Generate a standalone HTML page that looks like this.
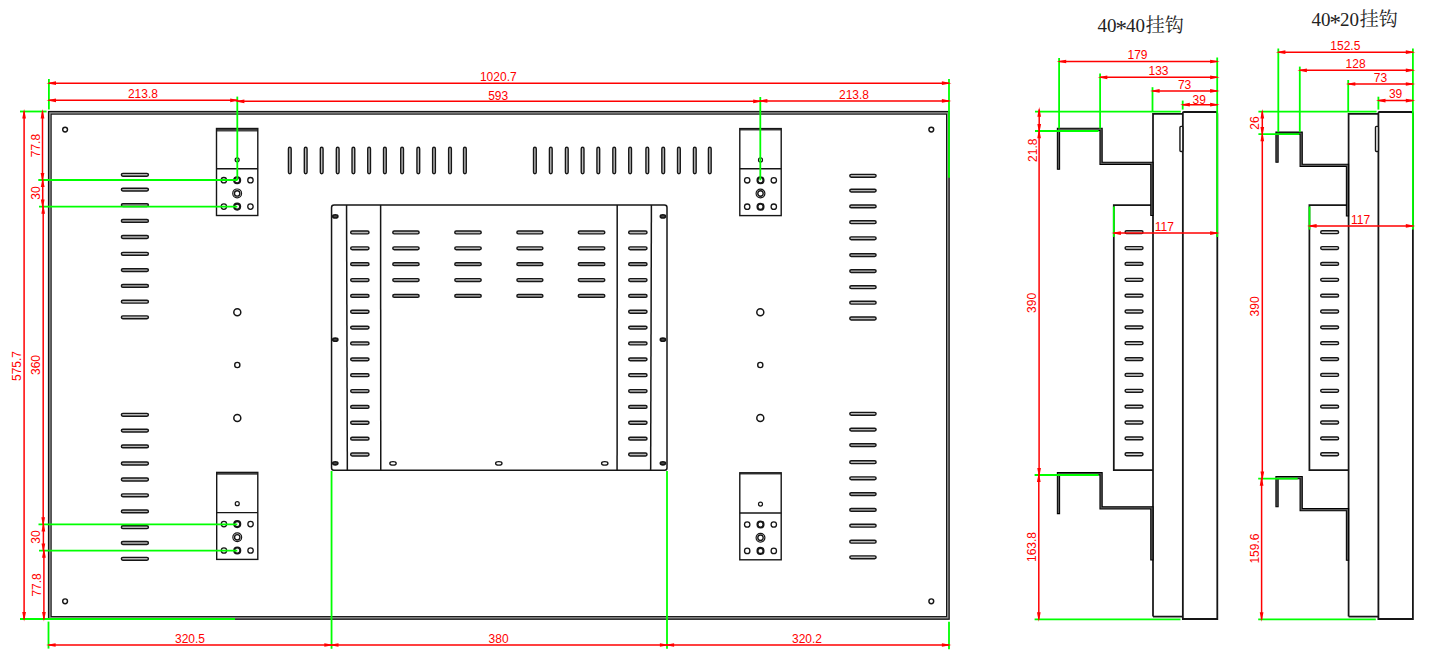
<!DOCTYPE html>
<html><head><meta charset="utf-8"><title>drawing</title>
<style>
html,body{margin:0;padding:0;background:#fff;}
body{width:1432px;height:658px;overflow:hidden;position:relative;}
svg{position:absolute;left:0;top:0;display:block;}
.d{font-family:"Liberation Sans",sans-serif;font-size:12px;fill:#ff0000;}
.t{font-family:"Liberation Serif","Noto Serif CJK SC",serif;font-size:19px;fill:#222;}
</style></head><body>
<svg width="1432" height="658" viewBox="0 0 1432 658">
<rect x="0" y="0" width="1432" height="658" fill="#ffffff"/>
<g id="main">
<rect x="49.85" y="112.85" width="898.00" height="505.05" fill="none" stroke="#969696" stroke-width="2.6"/>
<rect x="48.55" y="111.55" width="900.60" height="507.65" rx="0" fill="none" stroke="#161616" stroke-width="1.3"/>
<rect x="51.15" y="114.15" width="895.40" height="502.45" rx="0" fill="none" stroke="#161616" stroke-width="1.1"/>
<circle cx="65.10" cy="129.60" r="2.4" fill="none" stroke="#161616" stroke-width="1.45"/>
<circle cx="931.30" cy="129.60" r="2.4" fill="none" stroke="#161616" stroke-width="1.45"/>
<circle cx="65.10" cy="601.30" r="2.4" fill="none" stroke="#161616" stroke-width="1.45"/>
<circle cx="931.30" cy="601.30" r="2.4" fill="none" stroke="#161616" stroke-width="1.45"/>
<line x1="216.50" y1="130.00" x2="257.80" y2="130.00" stroke="#444" stroke-width="3.0" />
<rect x="216.50" y="128.50" width="41.30" height="87.00" rx="0" fill="none" stroke="#161616" stroke-width="1.4"/>
<line x1="216.50" y1="168.70" x2="257.80" y2="168.70" stroke="#161616" stroke-width="1.4" />
<circle cx="237.15" cy="159.80" r="2.0" fill="none" stroke="#161616" stroke-width="1.2"/>
<circle cx="223.85" cy="180.20" r="2.7" fill="none" stroke="#161616" stroke-width="1.3"/>
<circle cx="250.45" cy="180.20" r="2.7" fill="none" stroke="#161616" stroke-width="1.3"/>
<circle cx="237.15" cy="180.20" r="3.0" fill="none" stroke="#161616" stroke-width="2.1"/>
<circle cx="223.85" cy="206.60" r="2.7" fill="none" stroke="#161616" stroke-width="1.3"/>
<circle cx="250.45" cy="206.60" r="2.7" fill="none" stroke="#161616" stroke-width="1.3"/>
<circle cx="237.15" cy="206.60" r="3.0" fill="none" stroke="#161616" stroke-width="2.1"/>
<circle cx="237.15" cy="193.40" r="4.4" fill="none" stroke="#161616" stroke-width="1.2"/>
<circle cx="237.15" cy="193.40" r="2.7" fill="none" stroke="#161616" stroke-width="1.4"/>
<line x1="739.80" y1="129.50" x2="781.20" y2="129.50" stroke="#444" stroke-width="1.8" />
<rect x="739.80" y="128.60" width="41.40" height="87.00" rx="0" fill="none" stroke="#161616" stroke-width="1.4"/>
<line x1="739.80" y1="168.80" x2="781.20" y2="168.80" stroke="#161616" stroke-width="1.4" />
<circle cx="760.50" cy="159.90" r="2.0" fill="none" stroke="#161616" stroke-width="1.2"/>
<circle cx="747.20" cy="180.30" r="2.7" fill="none" stroke="#161616" stroke-width="1.3"/>
<circle cx="773.80" cy="180.30" r="2.7" fill="none" stroke="#161616" stroke-width="1.3"/>
<circle cx="760.50" cy="180.30" r="3.0" fill="none" stroke="#161616" stroke-width="2.1"/>
<circle cx="747.20" cy="206.70" r="2.7" fill="none" stroke="#161616" stroke-width="1.3"/>
<circle cx="773.80" cy="206.70" r="2.7" fill="none" stroke="#161616" stroke-width="1.3"/>
<circle cx="760.50" cy="206.70" r="3.0" fill="none" stroke="#161616" stroke-width="2.1"/>
<circle cx="760.50" cy="193.50" r="4.4" fill="none" stroke="#161616" stroke-width="1.2"/>
<circle cx="760.50" cy="193.50" r="2.7" fill="none" stroke="#161616" stroke-width="1.4"/>
<line x1="216.70" y1="473.55" x2="257.80" y2="473.55" stroke="#444" stroke-width="2.3" />
<rect x="216.70" y="472.40" width="41.10" height="87.00" rx="0" fill="none" stroke="#161616" stroke-width="1.4"/>
<line x1="216.70" y1="512.60" x2="257.80" y2="512.60" stroke="#161616" stroke-width="1.4" />
<circle cx="237.25" cy="503.70" r="2.0" fill="none" stroke="#161616" stroke-width="1.2"/>
<circle cx="223.95" cy="524.10" r="2.7" fill="none" stroke="#161616" stroke-width="1.3"/>
<circle cx="250.55" cy="524.10" r="2.7" fill="none" stroke="#161616" stroke-width="1.3"/>
<circle cx="237.25" cy="524.10" r="3.0" fill="none" stroke="#161616" stroke-width="2.1"/>
<circle cx="223.95" cy="550.50" r="2.7" fill="none" stroke="#161616" stroke-width="1.3"/>
<circle cx="250.55" cy="550.50" r="2.7" fill="none" stroke="#161616" stroke-width="1.3"/>
<circle cx="237.25" cy="550.50" r="3.0" fill="none" stroke="#161616" stroke-width="2.1"/>
<circle cx="237.25" cy="537.30" r="4.4" fill="none" stroke="#161616" stroke-width="1.2"/>
<circle cx="237.25" cy="537.30" r="2.7" fill="none" stroke="#161616" stroke-width="1.4"/>
<line x1="739.80" y1="473.70" x2="781.20" y2="473.70" stroke="#444" stroke-width="1.8" />
<rect x="739.80" y="472.80" width="41.40" height="87.00" rx="0" fill="none" stroke="#161616" stroke-width="1.4"/>
<line x1="739.80" y1="513.00" x2="781.20" y2="513.00" stroke="#161616" stroke-width="1.4" />
<circle cx="760.50" cy="504.10" r="2.0" fill="none" stroke="#161616" stroke-width="1.2"/>
<circle cx="747.20" cy="524.50" r="2.7" fill="none" stroke="#161616" stroke-width="1.3"/>
<circle cx="773.80" cy="524.50" r="2.7" fill="none" stroke="#161616" stroke-width="1.3"/>
<circle cx="760.50" cy="524.50" r="3.0" fill="none" stroke="#161616" stroke-width="2.1"/>
<circle cx="747.20" cy="550.90" r="2.7" fill="none" stroke="#161616" stroke-width="1.3"/>
<circle cx="773.80" cy="550.90" r="2.7" fill="none" stroke="#161616" stroke-width="1.3"/>
<circle cx="760.50" cy="550.90" r="3.0" fill="none" stroke="#161616" stroke-width="2.1"/>
<circle cx="760.50" cy="537.70" r="4.4" fill="none" stroke="#161616" stroke-width="1.2"/>
<circle cx="760.50" cy="537.70" r="2.7" fill="none" stroke="#161616" stroke-width="1.4"/>
<circle cx="237.30" cy="312.20" r="3.5" fill="none" stroke="#161616" stroke-width="1.5"/>
<circle cx="237.30" cy="365.00" r="2.6" fill="none" stroke="#161616" stroke-width="1.4"/>
<circle cx="237.30" cy="418.00" r="3.5" fill="none" stroke="#161616" stroke-width="1.5"/>
<circle cx="760.30" cy="312.20" r="3.5" fill="none" stroke="#161616" stroke-width="1.5"/>
<circle cx="760.30" cy="365.00" r="2.6" fill="none" stroke="#161616" stroke-width="1.4"/>
<circle cx="760.30" cy="418.00" r="3.5" fill="none" stroke="#161616" stroke-width="1.5"/>
<rect x="121.40" y="173.38" width="27.00" height="2.85" rx="1.425" fill="#b8b8b8" stroke="#161616" stroke-width="1.45"/>
<rect x="121.40" y="188.17" width="27.00" height="2.85" rx="1.425" fill="#b8b8b8" stroke="#161616" stroke-width="1.45"/>
<rect x="121.40" y="203.67" width="27.00" height="2.85" rx="1.425" fill="#b8b8b8" stroke="#161616" stroke-width="1.45"/>
<rect x="121.40" y="219.47" width="27.00" height="2.85" rx="1.425" fill="#b8b8b8" stroke="#161616" stroke-width="1.45"/>
<rect x="121.40" y="235.57" width="27.00" height="2.85" rx="1.425" fill="#b8b8b8" stroke="#161616" stroke-width="1.45"/>
<rect x="121.40" y="252.38" width="27.00" height="2.85" rx="1.425" fill="#b8b8b8" stroke="#161616" stroke-width="1.45"/>
<rect x="121.40" y="268.68" width="27.00" height="2.85" rx="1.425" fill="#b8b8b8" stroke="#161616" stroke-width="1.45"/>
<rect x="121.40" y="284.47" width="27.00" height="2.85" rx="1.425" fill="#b8b8b8" stroke="#161616" stroke-width="1.45"/>
<rect x="121.40" y="300.27" width="27.00" height="2.85" rx="1.425" fill="#b8b8b8" stroke="#161616" stroke-width="1.45"/>
<rect x="121.40" y="315.88" width="27.00" height="2.85" rx="1.425" fill="#b8b8b8" stroke="#161616" stroke-width="1.45"/>
<rect x="121.40" y="413.38" width="27.00" height="2.85" rx="1.425" fill="#b8b8b8" stroke="#161616" stroke-width="1.45"/>
<rect x="121.40" y="429.18" width="27.00" height="2.85" rx="1.425" fill="#b8b8b8" stroke="#161616" stroke-width="1.45"/>
<rect x="121.40" y="444.97" width="27.00" height="2.85" rx="1.425" fill="#b8b8b8" stroke="#161616" stroke-width="1.45"/>
<rect x="121.40" y="462.07" width="27.00" height="2.85" rx="1.425" fill="#b8b8b8" stroke="#161616" stroke-width="1.45"/>
<rect x="121.40" y="478.07" width="27.00" height="2.85" rx="1.425" fill="#b8b8b8" stroke="#161616" stroke-width="1.45"/>
<rect x="121.40" y="493.88" width="27.00" height="2.85" rx="1.425" fill="#b8b8b8" stroke="#161616" stroke-width="1.45"/>
<rect x="121.40" y="509.97" width="27.00" height="2.85" rx="1.425" fill="#b8b8b8" stroke="#161616" stroke-width="1.45"/>
<rect x="121.40" y="525.78" width="27.00" height="2.85" rx="1.425" fill="#b8b8b8" stroke="#161616" stroke-width="1.45"/>
<rect x="121.40" y="541.58" width="27.00" height="2.85" rx="1.425" fill="#b8b8b8" stroke="#161616" stroke-width="1.45"/>
<rect x="121.40" y="557.38" width="27.00" height="2.85" rx="1.425" fill="#b8b8b8" stroke="#161616" stroke-width="1.45"/>
<rect x="849.80" y="174.38" width="26.30" height="2.85" rx="1.425" fill="#b8b8b8" stroke="#161616" stroke-width="1.45"/>
<rect x="849.80" y="189.17" width="26.30" height="2.85" rx="1.425" fill="#b8b8b8" stroke="#161616" stroke-width="1.45"/>
<rect x="849.80" y="204.97" width="26.30" height="2.85" rx="1.425" fill="#b8b8b8" stroke="#161616" stroke-width="1.45"/>
<rect x="849.80" y="220.77" width="26.30" height="2.85" rx="1.425" fill="#b8b8b8" stroke="#161616" stroke-width="1.45"/>
<rect x="849.80" y="236.88" width="26.30" height="2.85" rx="1.425" fill="#b8b8b8" stroke="#161616" stroke-width="1.45"/>
<rect x="849.80" y="253.67" width="26.30" height="2.85" rx="1.425" fill="#b8b8b8" stroke="#161616" stroke-width="1.45"/>
<rect x="849.80" y="269.68" width="26.30" height="2.85" rx="1.425" fill="#b8b8b8" stroke="#161616" stroke-width="1.45"/>
<rect x="849.80" y="285.77" width="26.30" height="2.85" rx="1.425" fill="#b8b8b8" stroke="#161616" stroke-width="1.45"/>
<rect x="849.80" y="301.27" width="26.30" height="2.85" rx="1.425" fill="#b8b8b8" stroke="#161616" stroke-width="1.45"/>
<rect x="849.80" y="317.07" width="26.30" height="2.85" rx="1.425" fill="#b8b8b8" stroke="#161616" stroke-width="1.45"/>
<rect x="849.80" y="412.38" width="26.30" height="2.85" rx="1.425" fill="#b8b8b8" stroke="#161616" stroke-width="1.45"/>
<rect x="849.80" y="428.18" width="26.30" height="2.85" rx="1.425" fill="#b8b8b8" stroke="#161616" stroke-width="1.45"/>
<rect x="849.80" y="443.68" width="26.30" height="2.85" rx="1.425" fill="#b8b8b8" stroke="#161616" stroke-width="1.45"/>
<rect x="849.80" y="460.77" width="26.30" height="2.85" rx="1.425" fill="#b8b8b8" stroke="#161616" stroke-width="1.45"/>
<rect x="849.80" y="476.88" width="26.30" height="2.85" rx="1.425" fill="#b8b8b8" stroke="#161616" stroke-width="1.45"/>
<rect x="849.80" y="492.68" width="26.30" height="2.85" rx="1.425" fill="#b8b8b8" stroke="#161616" stroke-width="1.45"/>
<rect x="849.80" y="508.47" width="26.30" height="2.85" rx="1.425" fill="#b8b8b8" stroke="#161616" stroke-width="1.45"/>
<rect x="849.80" y="524.28" width="26.30" height="2.85" rx="1.425" fill="#b8b8b8" stroke="#161616" stroke-width="1.45"/>
<rect x="849.80" y="540.28" width="26.30" height="2.85" rx="1.425" fill="#b8b8b8" stroke="#161616" stroke-width="1.45"/>
<rect x="849.80" y="555.88" width="26.30" height="2.85" rx="1.425" fill="#b8b8b8" stroke="#161616" stroke-width="1.45"/>
<rect x="288.43" y="147.30" width="2.75" height="26.40" rx="1.375" fill="#bdbdbd" stroke="#161616" stroke-width="1.4"/>
<rect x="304.32" y="147.30" width="2.75" height="26.40" rx="1.375" fill="#bdbdbd" stroke="#161616" stroke-width="1.4"/>
<rect x="320.32" y="147.30" width="2.75" height="26.40" rx="1.375" fill="#bdbdbd" stroke="#161616" stroke-width="1.4"/>
<rect x="336.32" y="147.30" width="2.75" height="26.40" rx="1.375" fill="#bdbdbd" stroke="#161616" stroke-width="1.4"/>
<rect x="352.02" y="147.30" width="2.75" height="26.40" rx="1.375" fill="#bdbdbd" stroke="#161616" stroke-width="1.4"/>
<rect x="367.73" y="147.30" width="2.75" height="26.40" rx="1.375" fill="#bdbdbd" stroke="#161616" stroke-width="1.4"/>
<rect x="383.52" y="147.30" width="2.75" height="26.40" rx="1.375" fill="#bdbdbd" stroke="#161616" stroke-width="1.4"/>
<rect x="400.73" y="147.30" width="2.75" height="26.40" rx="1.375" fill="#bdbdbd" stroke="#161616" stroke-width="1.4"/>
<rect x="416.93" y="147.30" width="2.75" height="26.40" rx="1.375" fill="#bdbdbd" stroke="#161616" stroke-width="1.4"/>
<rect x="432.62" y="147.30" width="2.75" height="26.40" rx="1.375" fill="#bdbdbd" stroke="#161616" stroke-width="1.4"/>
<rect x="448.62" y="147.30" width="2.75" height="26.40" rx="1.375" fill="#bdbdbd" stroke="#161616" stroke-width="1.4"/>
<rect x="463.52" y="147.30" width="2.75" height="26.40" rx="1.375" fill="#bdbdbd" stroke="#161616" stroke-width="1.4"/>
<rect x="533.52" y="147.30" width="2.75" height="26.40" rx="1.375" fill="#bdbdbd" stroke="#161616" stroke-width="1.4"/>
<rect x="549.42" y="147.30" width="2.75" height="26.40" rx="1.375" fill="#bdbdbd" stroke="#161616" stroke-width="1.4"/>
<rect x="565.42" y="147.30" width="2.75" height="26.40" rx="1.375" fill="#bdbdbd" stroke="#161616" stroke-width="1.4"/>
<rect x="581.23" y="147.30" width="2.75" height="26.40" rx="1.375" fill="#bdbdbd" stroke="#161616" stroke-width="1.4"/>
<rect x="596.92" y="147.30" width="2.75" height="26.40" rx="1.375" fill="#bdbdbd" stroke="#161616" stroke-width="1.4"/>
<rect x="612.83" y="147.30" width="2.75" height="26.40" rx="1.375" fill="#bdbdbd" stroke="#161616" stroke-width="1.4"/>
<rect x="628.73" y="147.30" width="2.75" height="26.40" rx="1.375" fill="#bdbdbd" stroke="#161616" stroke-width="1.4"/>
<rect x="645.92" y="147.30" width="2.75" height="26.40" rx="1.375" fill="#bdbdbd" stroke="#161616" stroke-width="1.4"/>
<rect x="661.83" y="147.30" width="2.75" height="26.40" rx="1.375" fill="#bdbdbd" stroke="#161616" stroke-width="1.4"/>
<rect x="677.52" y="147.30" width="2.75" height="26.40" rx="1.375" fill="#bdbdbd" stroke="#161616" stroke-width="1.4"/>
<rect x="693.42" y="147.30" width="2.75" height="26.40" rx="1.375" fill="#bdbdbd" stroke="#161616" stroke-width="1.4"/>
<rect x="708.42" y="147.30" width="2.75" height="26.40" rx="1.375" fill="#bdbdbd" stroke="#161616" stroke-width="1.4"/>
<path d="M334.05,205.05 H664.5 Q667.0,205.05 667.0,207.55 V468.1 Q667.0,470.3 664.8,470.3 H333.75 Q331.55,470.3 331.55,468.1 V207.55 Q331.55,205.05 334.05,205.05 Z" fill="none" stroke="#161616" stroke-width="1.5" />
<line x1="346.55" y1="205.05" x2="347.35" y2="470.30" stroke="#161616" stroke-width="1.5" />
<line x1="380.60" y1="205.05" x2="380.75" y2="470.30" stroke="#161616" stroke-width="1.5" />
<line x1="617.20" y1="205.05" x2="617.10" y2="470.30" stroke="#161616" stroke-width="1.5" />
<line x1="651.40" y1="205.05" x2="650.65" y2="470.30" stroke="#161616" stroke-width="1.5" />
<rect x="350.70" y="231.02" width="18.30" height="2.85" rx="1.425" fill="#b8b8b8" stroke="#161616" stroke-width="1.45"/>
<rect x="628.70" y="231.02" width="18.30" height="2.85" rx="1.425" fill="#b8b8b8" stroke="#161616" stroke-width="1.45"/>
<rect x="350.70" y="246.88" width="18.30" height="2.85" rx="1.425" fill="#b8b8b8" stroke="#161616" stroke-width="1.45"/>
<rect x="628.70" y="246.88" width="18.30" height="2.85" rx="1.425" fill="#b8b8b8" stroke="#161616" stroke-width="1.45"/>
<rect x="350.70" y="262.74" width="18.30" height="2.85" rx="1.425" fill="#b8b8b8" stroke="#161616" stroke-width="1.45"/>
<rect x="628.70" y="262.74" width="18.30" height="2.85" rx="1.425" fill="#b8b8b8" stroke="#161616" stroke-width="1.45"/>
<rect x="350.70" y="278.60" width="18.30" height="2.85" rx="1.425" fill="#b8b8b8" stroke="#161616" stroke-width="1.45"/>
<rect x="628.70" y="278.60" width="18.30" height="2.85" rx="1.425" fill="#b8b8b8" stroke="#161616" stroke-width="1.45"/>
<rect x="350.70" y="294.46" width="18.30" height="2.85" rx="1.425" fill="#b8b8b8" stroke="#161616" stroke-width="1.45"/>
<rect x="628.70" y="294.46" width="18.30" height="2.85" rx="1.425" fill="#b8b8b8" stroke="#161616" stroke-width="1.45"/>
<rect x="350.70" y="310.32" width="18.30" height="2.85" rx="1.425" fill="#b8b8b8" stroke="#161616" stroke-width="1.45"/>
<rect x="628.70" y="310.32" width="18.30" height="2.85" rx="1.425" fill="#b8b8b8" stroke="#161616" stroke-width="1.45"/>
<rect x="350.70" y="326.19" width="18.30" height="2.85" rx="1.425" fill="#b8b8b8" stroke="#161616" stroke-width="1.45"/>
<rect x="628.70" y="326.19" width="18.30" height="2.85" rx="1.425" fill="#b8b8b8" stroke="#161616" stroke-width="1.45"/>
<rect x="350.70" y="342.04" width="18.30" height="2.85" rx="1.425" fill="#b8b8b8" stroke="#161616" stroke-width="1.45"/>
<rect x="628.70" y="342.04" width="18.30" height="2.85" rx="1.425" fill="#b8b8b8" stroke="#161616" stroke-width="1.45"/>
<rect x="350.70" y="357.90" width="18.30" height="2.85" rx="1.425" fill="#b8b8b8" stroke="#161616" stroke-width="1.45"/>
<rect x="628.70" y="357.90" width="18.30" height="2.85" rx="1.425" fill="#b8b8b8" stroke="#161616" stroke-width="1.45"/>
<rect x="350.70" y="373.76" width="18.30" height="2.85" rx="1.425" fill="#b8b8b8" stroke="#161616" stroke-width="1.45"/>
<rect x="628.70" y="373.76" width="18.30" height="2.85" rx="1.425" fill="#b8b8b8" stroke="#161616" stroke-width="1.45"/>
<rect x="350.70" y="389.62" width="18.30" height="2.85" rx="1.425" fill="#b8b8b8" stroke="#161616" stroke-width="1.45"/>
<rect x="628.70" y="389.62" width="18.30" height="2.85" rx="1.425" fill="#b8b8b8" stroke="#161616" stroke-width="1.45"/>
<rect x="350.70" y="405.48" width="18.30" height="2.85" rx="1.425" fill="#b8b8b8" stroke="#161616" stroke-width="1.45"/>
<rect x="628.70" y="405.48" width="18.30" height="2.85" rx="1.425" fill="#b8b8b8" stroke="#161616" stroke-width="1.45"/>
<rect x="350.70" y="421.34" width="18.30" height="2.85" rx="1.425" fill="#b8b8b8" stroke="#161616" stroke-width="1.45"/>
<rect x="628.70" y="421.34" width="18.30" height="2.85" rx="1.425" fill="#b8b8b8" stroke="#161616" stroke-width="1.45"/>
<rect x="350.70" y="437.20" width="18.30" height="2.85" rx="1.425" fill="#b8b8b8" stroke="#161616" stroke-width="1.45"/>
<rect x="628.70" y="437.20" width="18.30" height="2.85" rx="1.425" fill="#b8b8b8" stroke="#161616" stroke-width="1.45"/>
<rect x="350.70" y="453.06" width="18.30" height="2.85" rx="1.425" fill="#b8b8b8" stroke="#161616" stroke-width="1.45"/>
<rect x="628.70" y="453.06" width="18.30" height="2.85" rx="1.425" fill="#b8b8b8" stroke="#161616" stroke-width="1.45"/>
<rect x="392.80" y="231.02" width="26.30" height="2.85" rx="1.425" fill="#b8b8b8" stroke="#161616" stroke-width="1.45"/>
<rect x="454.80" y="231.02" width="26.40" height="2.85" rx="1.425" fill="#b8b8b8" stroke="#161616" stroke-width="1.45"/>
<rect x="516.90" y="231.02" width="26.00" height="2.85" rx="1.425" fill="#b8b8b8" stroke="#161616" stroke-width="1.45"/>
<rect x="578.30" y="231.02" width="26.50" height="2.85" rx="1.425" fill="#b8b8b8" stroke="#161616" stroke-width="1.45"/>
<rect x="392.80" y="246.88" width="26.30" height="2.85" rx="1.425" fill="#b8b8b8" stroke="#161616" stroke-width="1.45"/>
<rect x="454.80" y="246.88" width="26.40" height="2.85" rx="1.425" fill="#b8b8b8" stroke="#161616" stroke-width="1.45"/>
<rect x="516.90" y="246.88" width="26.00" height="2.85" rx="1.425" fill="#b8b8b8" stroke="#161616" stroke-width="1.45"/>
<rect x="578.30" y="246.88" width="26.50" height="2.85" rx="1.425" fill="#b8b8b8" stroke="#161616" stroke-width="1.45"/>
<rect x="392.80" y="262.74" width="26.30" height="2.85" rx="1.425" fill="#b8b8b8" stroke="#161616" stroke-width="1.45"/>
<rect x="454.80" y="262.74" width="26.40" height="2.85" rx="1.425" fill="#b8b8b8" stroke="#161616" stroke-width="1.45"/>
<rect x="516.90" y="262.74" width="26.00" height="2.85" rx="1.425" fill="#b8b8b8" stroke="#161616" stroke-width="1.45"/>
<rect x="578.30" y="262.74" width="26.50" height="2.85" rx="1.425" fill="#b8b8b8" stroke="#161616" stroke-width="1.45"/>
<rect x="392.80" y="278.60" width="26.30" height="2.85" rx="1.425" fill="#b8b8b8" stroke="#161616" stroke-width="1.45"/>
<rect x="454.80" y="278.60" width="26.40" height="2.85" rx="1.425" fill="#b8b8b8" stroke="#161616" stroke-width="1.45"/>
<rect x="516.90" y="278.60" width="26.00" height="2.85" rx="1.425" fill="#b8b8b8" stroke="#161616" stroke-width="1.45"/>
<rect x="578.30" y="278.60" width="26.50" height="2.85" rx="1.425" fill="#b8b8b8" stroke="#161616" stroke-width="1.45"/>
<rect x="392.80" y="294.46" width="26.30" height="2.85" rx="1.425" fill="#b8b8b8" stroke="#161616" stroke-width="1.45"/>
<rect x="454.80" y="294.46" width="26.40" height="2.85" rx="1.425" fill="#b8b8b8" stroke="#161616" stroke-width="1.45"/>
<rect x="516.90" y="294.46" width="26.00" height="2.85" rx="1.425" fill="#b8b8b8" stroke="#161616" stroke-width="1.45"/>
<rect x="578.30" y="294.46" width="26.50" height="2.85" rx="1.425" fill="#b8b8b8" stroke="#161616" stroke-width="1.45"/>
<ellipse cx="393.00" cy="463.40" rx="3.2" ry="1.75" fill="none" stroke="#161616" stroke-width="1.3"/>
<ellipse cx="498.80" cy="463.40" rx="3.2" ry="1.75" fill="none" stroke="#161616" stroke-width="1.3"/>
<ellipse cx="604.75" cy="463.40" rx="3.2" ry="1.75" fill="none" stroke="#161616" stroke-width="1.3"/>
<ellipse cx="335.30" cy="216.40" rx="2.6" ry="1.6" fill="#4a4a4a" stroke="#161616" stroke-width="1.6"/>
<ellipse cx="662.90" cy="216.40" rx="2.6" ry="1.6" fill="#4a4a4a" stroke="#161616" stroke-width="1.6"/>
<ellipse cx="335.30" cy="339.70" rx="2.6" ry="1.6" fill="#4a4a4a" stroke="#161616" stroke-width="1.6"/>
<ellipse cx="662.90" cy="339.70" rx="2.6" ry="1.6" fill="#4a4a4a" stroke="#161616" stroke-width="1.6"/>
<ellipse cx="335.30" cy="463.30" rx="2.6" ry="1.6" fill="#4a4a4a" stroke="#161616" stroke-width="1.6"/>
<ellipse cx="662.90" cy="463.30" rx="2.6" ry="1.6" fill="#4a4a4a" stroke="#161616" stroke-width="1.6"/>
<line x1="48.90" y1="79.00" x2="48.90" y2="109.60" stroke="#00ff00" stroke-width="1.8" />
<line x1="949.00" y1="79.00" x2="949.00" y2="177.70" stroke="#00ff00" stroke-width="1.8" />
<line x1="237.30" y1="96.60" x2="237.30" y2="180.30" stroke="#00ff00" stroke-width="1.8" />
<line x1="760.30" y1="97.00" x2="760.30" y2="180.30" stroke="#00ff00" stroke-width="1.8" />
<line x1="20.00" y1="111.50" x2="46.60" y2="111.50" stroke="#00ff00" stroke-width="1.8" />
<line x1="38.30" y1="180.00" x2="237.30" y2="180.00" stroke="#00ff00" stroke-width="1.8" />
<line x1="39.00" y1="206.60" x2="237.30" y2="206.60" stroke="#00ff00" stroke-width="1.8" />
<line x1="38.50" y1="524.30" x2="237.30" y2="524.30" stroke="#00ff00" stroke-width="1.8" />
<line x1="39.00" y1="550.60" x2="237.30" y2="550.60" stroke="#00ff00" stroke-width="1.8" />
<line x1="20.00" y1="619.00" x2="235.00" y2="619.00" stroke="#00ff00" stroke-width="1.8" />
<line x1="48.50" y1="621.60" x2="48.50" y2="648.60" stroke="#00ff00" stroke-width="1.8" />
<line x1="949.00" y1="621.80" x2="949.00" y2="649.30" stroke="#00ff00" stroke-width="1.8" />
<line x1="331.55" y1="471.00" x2="331.55" y2="648.80" stroke="#00ff00" stroke-width="1.8" />
<line x1="667.00" y1="471.00" x2="667.00" y2="648.80" stroke="#00ff00" stroke-width="1.8" />
<line x1="48.90" y1="83.20" x2="949.00" y2="83.20" stroke="#ff0000" stroke-width="1.5" />
<polygon points="46.40,83.20 56.00,81.35 56.00,85.05" fill="#ff0000"/>
<polygon points="951.50,83.20 941.90,85.05 941.90,81.35" fill="#ff0000"/>
<text x="498.30" y="81.00" text-anchor="middle" class="d">1020.7</text>
<line x1="48.90" y1="100.35" x2="237.30" y2="100.35" stroke="#ff0000" stroke-width="1.5" />
<polygon points="46.40,100.35 56.00,98.50 56.00,102.20" fill="#ff0000"/>
<polygon points="239.80,100.35 230.20,102.20 230.20,98.50" fill="#ff0000"/>
<text x="142.90" y="98.30" text-anchor="middle" class="d">213.8</text>
<line x1="237.30" y1="101.30" x2="760.30" y2="101.30" stroke="#ff0000" stroke-width="1.5" />
<polygon points="234.80,101.30 244.40,99.45 244.40,103.15" fill="#ff0000"/>
<polygon points="762.80,101.30 753.20,103.15 753.20,99.45" fill="#ff0000"/>
<text x="498.20" y="99.50" text-anchor="middle" class="d">593</text>
<line x1="760.30" y1="100.90" x2="949.00" y2="100.90" stroke="#ff0000" stroke-width="1.5" />
<polygon points="757.80,100.90 767.40,99.05 767.40,102.75" fill="#ff0000"/>
<polygon points="951.50,100.90 941.90,102.75 941.90,99.05" fill="#ff0000"/>
<text x="854.00" y="98.60" text-anchor="middle" class="d">213.8</text>
<line x1="48.50" y1="645.00" x2="331.40" y2="645.00" stroke="#ff0000" stroke-width="1.5" />
<polygon points="46.00,645.00 55.60,643.15 55.60,646.85" fill="#ff0000"/>
<polygon points="333.90,645.00 324.30,646.85 324.30,643.15" fill="#ff0000"/>
<text x="190.00" y="643.00" text-anchor="middle" class="d">320.5</text>
<line x1="331.40" y1="645.00" x2="667.00" y2="645.00" stroke="#ff0000" stroke-width="1.5" />
<polygon points="328.90,645.00 338.50,643.15 338.50,646.85" fill="#ff0000"/>
<polygon points="669.50,645.00 659.90,646.85 659.90,643.15" fill="#ff0000"/>
<text x="498.60" y="643.00" text-anchor="middle" class="d">380</text>
<line x1="667.00" y1="645.00" x2="949.00" y2="645.00" stroke="#ff0000" stroke-width="1.5" />
<polygon points="664.50,645.00 674.10,643.15 674.10,646.85" fill="#ff0000"/>
<polygon points="951.50,645.00 941.90,646.85 941.90,643.15" fill="#ff0000"/>
<text x="807.00" y="643.00" text-anchor="middle" class="d">320.2</text>
<line x1="24.10" y1="111.50" x2="24.10" y2="619.00" stroke="#ff0000" stroke-width="1.5" />
<polygon points="24.10,109.00 25.95,118.60 22.25,118.60" fill="#ff0000"/>
<polygon points="24.10,621.50 22.25,611.90 25.95,611.90" fill="#ff0000"/>
<text transform="translate(21.30,366.00) rotate(-90)" text-anchor="middle" class="d">575.7</text>
<line x1="42.50" y1="111.50" x2="42.50" y2="180.00" stroke="#ff0000" stroke-width="1.5" />
<polygon points="42.50,109.00 44.35,118.60 40.65,118.60" fill="#ff0000"/>
<polygon points="42.50,182.50 40.65,172.90 44.35,172.90" fill="#ff0000"/>
<text transform="translate(39.80,145.60) rotate(-90)" text-anchor="middle" class="d">77.8</text>
<line x1="42.70" y1="180.00" x2="42.70" y2="206.60" stroke="#ff0000" stroke-width="1.5" />
<polygon points="42.70,177.50 44.55,187.10 40.85,187.10" fill="#ff0000"/>
<polygon points="42.70,209.10 40.85,199.50 44.55,199.50" fill="#ff0000"/>
<text transform="translate(39.90,193.00) rotate(-90)" text-anchor="middle" class="d">30</text>
<line x1="43.20" y1="206.60" x2="43.20" y2="524.30" stroke="#ff0000" stroke-width="1.5" />
<polygon points="43.20,204.10 45.05,213.70 41.35,213.70" fill="#ff0000"/>
<polygon points="43.20,526.80 41.35,517.20 45.05,517.20" fill="#ff0000"/>
<text transform="translate(40.20,365.00) rotate(-90)" text-anchor="middle" class="d">360</text>
<line x1="43.40" y1="524.30" x2="43.40" y2="550.60" stroke="#ff0000" stroke-width="1.5" />
<polygon points="43.40,521.80 45.25,531.40 41.55,531.40" fill="#ff0000"/>
<polygon points="43.40,553.10 41.55,543.50 45.25,543.50" fill="#ff0000"/>
<text transform="translate(40.40,537.10) rotate(-90)" text-anchor="middle" class="d">30</text>
<line x1="43.90" y1="550.60" x2="43.90" y2="619.00" stroke="#ff0000" stroke-width="1.5" />
<polygon points="43.90,548.10 45.75,557.70 42.05,557.70" fill="#ff0000"/>
<polygon points="43.90,621.50 42.05,611.90 45.75,611.90" fill="#ff0000"/>
<text transform="translate(40.60,584.90) rotate(-90)" text-anchor="middle" class="d">77.8</text>
</g>
<g id="side">
<path d="M1153.0,205.1 H1113.8 V470.0 H1153.0" fill="none" stroke="#161616" stroke-width="1.75" />
<rect x="1125.10" y="230.77" width="17.90" height="2.85" rx="1.425" fill="#d4d4d4" stroke="#161616" stroke-width="1.45"/>
<rect x="1125.10" y="246.63" width="17.90" height="2.85" rx="1.425" fill="#d4d4d4" stroke="#161616" stroke-width="1.45"/>
<rect x="1125.10" y="262.49" width="17.90" height="2.85" rx="1.425" fill="#d4d4d4" stroke="#161616" stroke-width="1.45"/>
<rect x="1125.10" y="278.35" width="17.90" height="2.85" rx="1.425" fill="#d4d4d4" stroke="#161616" stroke-width="1.45"/>
<rect x="1125.10" y="294.21" width="17.90" height="2.85" rx="1.425" fill="#d4d4d4" stroke="#161616" stroke-width="1.45"/>
<rect x="1125.10" y="310.07" width="17.90" height="2.85" rx="1.425" fill="#d4d4d4" stroke="#161616" stroke-width="1.45"/>
<rect x="1125.10" y="325.94" width="17.90" height="2.85" rx="1.425" fill="#d4d4d4" stroke="#161616" stroke-width="1.45"/>
<rect x="1125.10" y="341.79" width="17.90" height="2.85" rx="1.425" fill="#d4d4d4" stroke="#161616" stroke-width="1.45"/>
<rect x="1125.10" y="357.65" width="17.90" height="2.85" rx="1.425" fill="#d4d4d4" stroke="#161616" stroke-width="1.45"/>
<rect x="1125.10" y="373.51" width="17.90" height="2.85" rx="1.425" fill="#d4d4d4" stroke="#161616" stroke-width="1.45"/>
<rect x="1125.10" y="389.37" width="17.90" height="2.85" rx="1.425" fill="#d4d4d4" stroke="#161616" stroke-width="1.45"/>
<rect x="1125.10" y="405.23" width="17.90" height="2.85" rx="1.425" fill="#d4d4d4" stroke="#161616" stroke-width="1.45"/>
<rect x="1125.10" y="421.09" width="17.90" height="2.85" rx="1.425" fill="#d4d4d4" stroke="#161616" stroke-width="1.45"/>
<rect x="1125.10" y="436.95" width="17.90" height="2.85" rx="1.425" fill="#d4d4d4" stroke="#161616" stroke-width="1.45"/>
<rect x="1125.10" y="452.81" width="17.90" height="2.85" rx="1.425" fill="#d4d4d4" stroke="#161616" stroke-width="1.45"/>
<path d="M1153.0,616.6 V113.9 H1182.85" fill="none" stroke="#161616" stroke-width="1.75" />
<line x1="1153.00" y1="616.60" x2="1182.85" y2="616.60" stroke="#161616" stroke-width="1.75" />
<path d="M1182.85,619.0 V113 Q1182.85,112.0 1183.85,112.0 H1215.8 Q1217.3,112.0 1217.3,113.5 V619.0 Z" fill="none" stroke="#161616" stroke-width="1.8" />
<rect x="1179.95" y="126.40" width="2.90" height="25.10" rx="1" fill="#fff" stroke="#161616" stroke-width="1.4"/>
<path d="M1057.35,169.2 V128.2 H1102.2 V162.25 H1153.0 V215.5 H1150.75 V164.5 H1099.95 V130.45 H1059.6 V169.2 Z" fill="#5a5a5a" stroke="#000" stroke-width="1.05" stroke-linejoin="miter"/>
<path d="M1057.35,513.6 V472.6 H1102.2 V506.65000000000003 H1153.0 V559.9000000000001 H1150.75 V508.90000000000003 H1099.95 V474.85 H1059.6 V513.6 Z" fill="#5a5a5a" stroke="#000" stroke-width="1.05" stroke-linejoin="miter"/>
<line x1="1059.10" y1="58.00" x2="1059.10" y2="128.40" stroke="#00ff00" stroke-width="1.8" />
<line x1="1100.10" y1="73.40" x2="1100.10" y2="128.40" stroke="#00ff00" stroke-width="1.8" />
<line x1="1152.50" y1="87.20" x2="1152.50" y2="111.50" stroke="#00ff00" stroke-width="1.8" />
<line x1="1182.70" y1="100.60" x2="1182.70" y2="109.60" stroke="#00ff00" stroke-width="1.8" />
<line x1="1217.20" y1="57.50" x2="1217.20" y2="237.00" stroke="#00ff00" stroke-width="1.8" />
<line x1="1035.00" y1="111.60" x2="1180.80" y2="111.60" stroke="#00ff00" stroke-width="1.8" />
<line x1="1035.00" y1="131.00" x2="1098.60" y2="131.00" stroke="#00ff00" stroke-width="1.8" />
<line x1="1034.60" y1="475.00" x2="1098.50" y2="475.00" stroke="#00ff00" stroke-width="1.8" />
<line x1="1034.60" y1="619.30" x2="1180.50" y2="619.30" stroke="#00ff00" stroke-width="1.8" />
<line x1="1113.80" y1="206.50" x2="1113.80" y2="237.00" stroke="#00ff00" stroke-width="1.8" />
<line x1="1059.10" y1="61.50" x2="1217.20" y2="61.50" stroke="#ff0000" stroke-width="1.5" />
<polygon points="1056.60,61.50 1066.20,59.65 1066.20,63.35" fill="#ff0000"/>
<polygon points="1219.70,61.50 1210.10,63.35 1210.10,59.65" fill="#ff0000"/>
<text x="1137.50" y="59.30" text-anchor="middle" class="d">179</text>
<line x1="1100.20" y1="77.30" x2="1217.20" y2="77.30" stroke="#ff0000" stroke-width="1.5" />
<polygon points="1097.70,77.30 1107.30,75.45 1107.30,79.15" fill="#ff0000"/>
<polygon points="1219.70,77.30 1210.10,79.15 1210.10,75.45" fill="#ff0000"/>
<text x="1158.50" y="75.20" text-anchor="middle" class="d">133</text>
<line x1="1152.50" y1="90.90" x2="1217.20" y2="90.90" stroke="#ff0000" stroke-width="1.5" />
<polygon points="1150.00,90.90 1159.60,89.05 1159.60,92.75" fill="#ff0000"/>
<polygon points="1219.70,90.90 1210.10,92.75 1210.10,89.05" fill="#ff0000"/>
<text x="1184.60" y="89.40" text-anchor="middle" class="d">73</text>
<line x1="1182.70" y1="104.70" x2="1217.20" y2="104.70" stroke="#ff0000" stroke-width="1.5" />
<polygon points="1180.20,104.70 1189.80,102.85 1189.80,106.55" fill="#ff0000"/>
<polygon points="1219.70,104.70 1210.10,106.55 1210.10,102.85" fill="#ff0000"/>
<text x="1199.30" y="103.50" text-anchor="middle" class="d">39</text>
<line x1="1113.80" y1="233.10" x2="1217.20" y2="233.10" stroke="#ff0000" stroke-width="1.5" />
<polygon points="1111.30,233.10 1120.90,231.25 1120.90,234.95" fill="#ff0000"/>
<polygon points="1219.70,233.10 1210.10,234.95 1210.10,231.25" fill="#ff0000"/>
<text x="1164.30" y="230.90" text-anchor="middle" class="d">117</text>
<line x1="1039.20" y1="109.60" x2="1039.20" y2="131.20" stroke="#ff0000" stroke-width="1.5" />
<polygon points="1039.20,107.10 1041.05,116.70 1037.35,116.70" fill="#ff0000"/>
<polygon points="1039.20,133.70 1037.35,124.10 1041.05,124.10" fill="#ff0000"/>
<text transform="translate(1037.2,150.3) rotate(-90)" text-anchor="middle" class="d">21.8</text>
<line x1="1039.10" y1="131.20" x2="1039.10" y2="475.00" stroke="#ff0000" stroke-width="1.5" />
<polygon points="1039.10,128.70 1040.95,138.30 1037.25,138.30" fill="#ff0000"/>
<polygon points="1039.10,477.50 1037.25,467.90 1040.95,467.90" fill="#ff0000"/>
<text transform="translate(1036.30,302.90) rotate(-90)" text-anchor="middle" class="d">390</text>
<line x1="1038.80" y1="475.00" x2="1038.80" y2="619.30" stroke="#ff0000" stroke-width="1.5" />
<polygon points="1038.80,472.50 1040.65,482.10 1036.95,482.10" fill="#ff0000"/>
<polygon points="1038.80,621.80 1036.95,612.20 1040.65,612.20" fill="#ff0000"/>
<text transform="translate(1036.00,547.00) rotate(-90)" text-anchor="middle" class="d">163.8</text>
<path d="M1348.6,205.1 H1309.3999999999999 V470.0 H1348.6" fill="none" stroke="#161616" stroke-width="1.75" />
<rect x="1320.70" y="230.77" width="17.90" height="2.85" rx="1.425" fill="#d4d4d4" stroke="#161616" stroke-width="1.45"/>
<rect x="1320.70" y="246.63" width="17.90" height="2.85" rx="1.425" fill="#d4d4d4" stroke="#161616" stroke-width="1.45"/>
<rect x="1320.70" y="262.49" width="17.90" height="2.85" rx="1.425" fill="#d4d4d4" stroke="#161616" stroke-width="1.45"/>
<rect x="1320.70" y="278.35" width="17.90" height="2.85" rx="1.425" fill="#d4d4d4" stroke="#161616" stroke-width="1.45"/>
<rect x="1320.70" y="294.21" width="17.90" height="2.85" rx="1.425" fill="#d4d4d4" stroke="#161616" stroke-width="1.45"/>
<rect x="1320.70" y="310.07" width="17.90" height="2.85" rx="1.425" fill="#d4d4d4" stroke="#161616" stroke-width="1.45"/>
<rect x="1320.70" y="325.94" width="17.90" height="2.85" rx="1.425" fill="#d4d4d4" stroke="#161616" stroke-width="1.45"/>
<rect x="1320.70" y="341.79" width="17.90" height="2.85" rx="1.425" fill="#d4d4d4" stroke="#161616" stroke-width="1.45"/>
<rect x="1320.70" y="357.65" width="17.90" height="2.85" rx="1.425" fill="#d4d4d4" stroke="#161616" stroke-width="1.45"/>
<rect x="1320.70" y="373.51" width="17.90" height="2.85" rx="1.425" fill="#d4d4d4" stroke="#161616" stroke-width="1.45"/>
<rect x="1320.70" y="389.37" width="17.90" height="2.85" rx="1.425" fill="#d4d4d4" stroke="#161616" stroke-width="1.45"/>
<rect x="1320.70" y="405.23" width="17.90" height="2.85" rx="1.425" fill="#d4d4d4" stroke="#161616" stroke-width="1.45"/>
<rect x="1320.70" y="421.09" width="17.90" height="2.85" rx="1.425" fill="#d4d4d4" stroke="#161616" stroke-width="1.45"/>
<rect x="1320.70" y="436.95" width="17.90" height="2.85" rx="1.425" fill="#d4d4d4" stroke="#161616" stroke-width="1.45"/>
<rect x="1320.70" y="452.81" width="17.90" height="2.85" rx="1.425" fill="#d4d4d4" stroke="#161616" stroke-width="1.45"/>
<path d="M1348.6,616.6 V113.9 H1378.3999999999999" fill="none" stroke="#161616" stroke-width="1.75" />
<line x1="1348.60" y1="616.60" x2="1378.40" y2="616.60" stroke="#161616" stroke-width="1.75" />
<path d="M1378.3999999999999,619.0 V113 Q1378.3999999999999,112.0 1379.3999999999999,112.0 H1411.3999999999999 Q1412.8999999999999,112.0 1412.8999999999999,113.5 V619.0 Z" fill="none" stroke="#161616" stroke-width="1.8" />
<rect x="1375.50" y="126.40" width="2.90" height="25.10" rx="1" fill="#fff" stroke="#161616" stroke-width="1.4"/>
<path d="M1275.9,162.29999999999998 V132.1 H1302.3 V164.14999999999998 H1348.6 V215.89999999999998 H1346.35 V166.39999999999998 H1300.05 V134.35 H1278.15 V162.29999999999998 Z" fill="#5a5a5a" stroke="#000" stroke-width="1.05" stroke-linejoin="miter"/>
<path d="M1275.9,506.7 V476.5 H1302.3 V508.55 H1348.6 V560.3 H1346.35 V510.8 H1300.05 V478.75 H1278.15 V506.7 Z" fill="#5a5a5a" stroke="#000" stroke-width="1.05" stroke-linejoin="miter"/>
<line x1="1278.30" y1="48.50" x2="1278.30" y2="132.20" stroke="#00ff00" stroke-width="1.8" />
<line x1="1299.80" y1="66.60" x2="1299.80" y2="132.20" stroke="#00ff00" stroke-width="1.8" />
<line x1="1348.20" y1="80.00" x2="1348.20" y2="111.50" stroke="#00ff00" stroke-width="1.8" />
<line x1="1378.40" y1="96.70" x2="1378.40" y2="109.60" stroke="#00ff00" stroke-width="1.8" />
<line x1="1412.90" y1="48.60" x2="1412.90" y2="229.60" stroke="#00ff00" stroke-width="1.8" />
<line x1="1258.40" y1="111.60" x2="1376.60" y2="111.60" stroke="#00ff00" stroke-width="1.8" />
<line x1="1258.40" y1="134.20" x2="1299.40" y2="134.20" stroke="#00ff00" stroke-width="1.8" />
<line x1="1258.20" y1="478.60" x2="1297.70" y2="478.60" stroke="#00ff00" stroke-width="1.8" />
<line x1="1258.20" y1="619.30" x2="1375.80" y2="619.30" stroke="#00ff00" stroke-width="1.8" />
<line x1="1309.50" y1="206.50" x2="1309.50" y2="229.60" stroke="#00ff00" stroke-width="1.8" />
<line x1="1278.30" y1="52.20" x2="1412.90" y2="52.20" stroke="#ff0000" stroke-width="1.5" />
<polygon points="1275.80,52.20 1285.40,50.35 1285.40,54.05" fill="#ff0000"/>
<polygon points="1415.40,52.20 1405.80,54.05 1405.80,50.35" fill="#ff0000"/>
<text x="1345.30" y="50.00" text-anchor="middle" class="d">152.5</text>
<line x1="1299.80" y1="70.30" x2="1412.90" y2="70.30" stroke="#ff0000" stroke-width="1.5" />
<polygon points="1297.30,70.30 1306.90,68.45 1306.90,72.15" fill="#ff0000"/>
<polygon points="1415.40,70.30 1405.80,72.15 1405.80,68.45" fill="#ff0000"/>
<text x="1355.60" y="68.20" text-anchor="middle" class="d">128</text>
<line x1="1348.20" y1="84.00" x2="1412.90" y2="84.00" stroke="#ff0000" stroke-width="1.5" />
<polygon points="1345.70,84.00 1355.30,82.15 1355.30,85.85" fill="#ff0000"/>
<polygon points="1415.40,84.00 1405.80,85.85 1405.80,82.15" fill="#ff0000"/>
<text x="1380.50" y="81.90" text-anchor="middle" class="d">73</text>
<line x1="1378.40" y1="100.60" x2="1412.90" y2="100.60" stroke="#ff0000" stroke-width="1.5" />
<polygon points="1375.90,100.60 1385.50,98.75 1385.50,102.45" fill="#ff0000"/>
<polygon points="1415.40,100.60 1405.80,102.45 1405.80,98.75" fill="#ff0000"/>
<text x="1395.60" y="98.20" text-anchor="middle" class="d">39</text>
<line x1="1309.50" y1="225.90" x2="1412.90" y2="225.90" stroke="#ff0000" stroke-width="1.5" />
<polygon points="1307.00,225.90 1316.60,224.05 1316.60,227.75" fill="#ff0000"/>
<polygon points="1415.40,225.90 1405.80,227.75 1405.80,224.05" fill="#ff0000"/>
<text x="1360.60" y="223.80" text-anchor="middle" class="d">117</text>
<line x1="1262.30" y1="111.50" x2="1262.30" y2="134.20" stroke="#ff0000" stroke-width="1.5" />
<polygon points="1262.30,109.00 1264.15,118.60 1260.45,118.60" fill="#ff0000"/>
<polygon points="1262.30,136.70 1260.45,127.10 1264.15,127.10" fill="#ff0000"/>
<text transform="translate(1259.30,123.00) rotate(-90)" text-anchor="middle" class="d">26</text>
<line x1="1262.30" y1="134.20" x2="1262.30" y2="478.60" stroke="#ff0000" stroke-width="1.5" />
<polygon points="1262.30,131.70 1264.15,141.30 1260.45,141.30" fill="#ff0000"/>
<polygon points="1262.30,481.10 1260.45,471.50 1264.15,471.50" fill="#ff0000"/>
<text transform="translate(1259.30,306.40) rotate(-90)" text-anchor="middle" class="d">390</text>
<line x1="1261.60" y1="478.60" x2="1261.60" y2="619.30" stroke="#ff0000" stroke-width="1.5" />
<polygon points="1261.60,476.10 1263.45,485.70 1259.75,485.70" fill="#ff0000"/>
<polygon points="1261.60,621.80 1259.75,612.20 1263.45,612.20" fill="#ff0000"/>
<text transform="translate(1258.80,548.60) rotate(-90)" text-anchor="middle" class="d">159.6</text>
</g>
<text x="1097.5" y="32" class="t">40<tspan font-size="23" dy="3.8" dx="-1">*</tspan><tspan dy="-3.8" dx="-1">40</tspan><tspan dx="0.8">挂钩</tspan></text>
<text x="1311.5" y="25.8" class="t">40<tspan font-size="23" dy="3.8" dx="-1">*</tspan><tspan dy="-3.8" dx="-1">20</tspan><tspan dx="0.8">挂钩</tspan></text>
</svg>
</body></html>
